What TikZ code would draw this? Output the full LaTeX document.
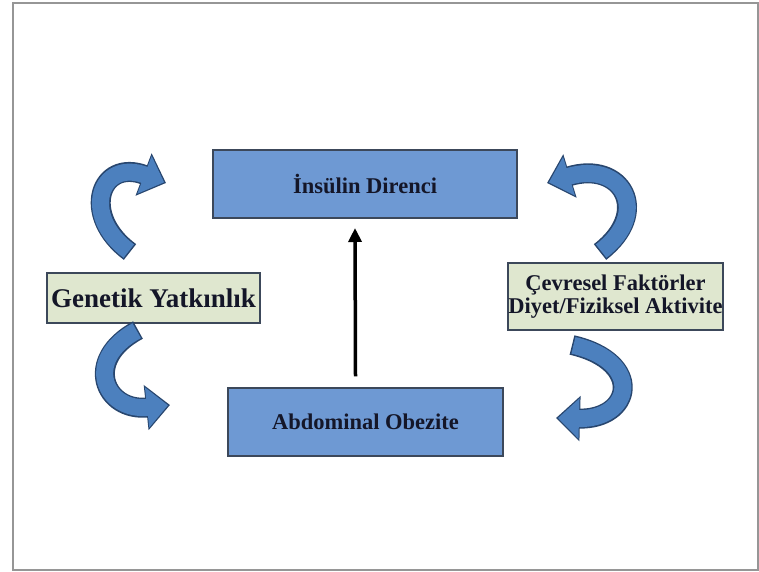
\documentclass[tikz,border=0pt]{standalone}
\usepackage{fontspec}
\setmainfont{Liberation Serif}
\usetikzlibrary{arrows.meta}
\definecolor{kutumavi}{RGB}{110,153,211}
\definecolor{kenar}{RGB}{60,72,90}
\definecolor{acikyesil}{RGB}{223,231,207}
\definecolor{okmavi}{RGB}{76,128,190}
\definecolor{okkenar}{RGB}{40,70,110}
\definecolor{yazi}{RGB}{20,22,40}
\definecolor{cerceve}{RGB}{150,150,150}
\begin{document}
\begin{tikzpicture}
    [x=1pt,y=-1pt,
     kutu/.style={draw=kenar,fill=kutumavi,line width=1.5pt,text=yazi,
       font=\bfseries\fontsize{22.5}{24}\selectfont},
     yesilkutu/.style={draw=kenar,fill=acikyesil,line width=1.5pt,text=yazi,
       align=center,inner sep=0pt},
     egri/.style={line width=17pt,draw=okmavi,shorten <=1.5pt,shorten >=2pt,
       -{Triangle[length=21pt,width=39pt]},
       preaction={draw=okkenar,line width=20pt,shorten <=0pt,shorten >=0pt,
         -{Triangle[length=24pt,width=44pt]}}}]
    \useasboundingbox (0,0) rectangle (759,571);
    \draw[cerceve,line width=2.5pt] (13,3) rectangle (758,570);

    \node[kutu,minimum width=304pt,minimum height=68pt] (IR) at (365,184) {İnsülin Direnci};
    \node[kutu,minimum width=275pt,minimum height=68pt] (AO) at (365.5,422) {Abdominal Obezite};
    \node[yesilkutu,minimum width=213pt,minimum height=50pt,
      font=\bfseries\fontsize{27}{28}\selectfont] (GY) at (153.5,298) {Genetik Yatkınlık};
    \node[yesilkutu,minimum width=215pt,minimum height=67pt,
      font=\bfseries\fontsize{22.5}{23}\selectfont] (CF) at (615.5,296.5)
      {Çevresel Faktörler\\Diyet/Fiziksel Aktivite};

    \draw[line width=3.5pt,-{Triangle[length=14pt,width=13pt]}]
      ([xshift=-10pt]AO.north) ++(0,-11) -- ([xshift=-10pt]IR.south |- 0,228);

    % kavisli oklar
    \draw[egri] (130,252) .. controls (80,215) and (100,158) .. (166,183);
    \draw[egri] (138,330) .. controls (82,360) and (105,412) .. (170,405);
    \draw[egri] (600,252) .. controls (652,212) and (622,160) .. (547,183);
    \draw[egri] (572,345) .. controls (645,362) and (632,420) .. (556,418);
\end{tikzpicture}
\end{document}
